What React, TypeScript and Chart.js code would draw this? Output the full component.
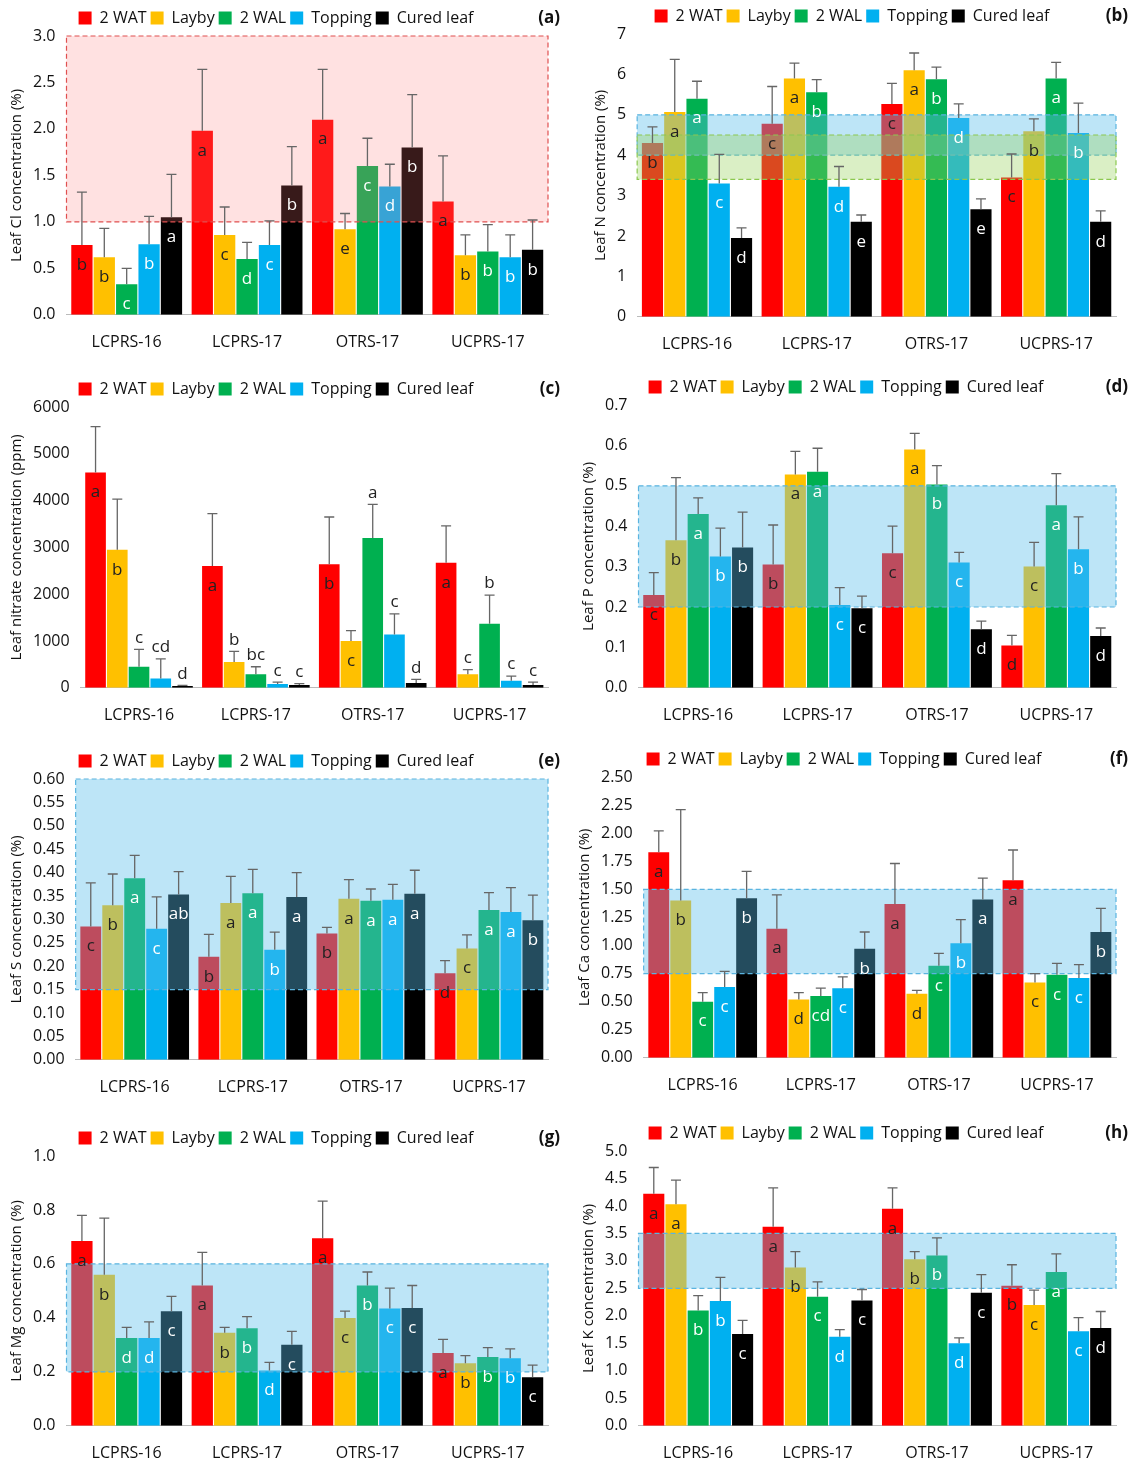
import { useEffect, useRef } from 'react';
import { Chart, registerables } from 'chart.js';

Chart.register(...registerables);

const FONT = '"Open Sans", "Noto Sans", sans-serif';
const sites = ['LCPRS-16', 'LCPRS-17', 'OTRS-17', 'UCPRS-17'];
const stages = ['2 WAT', 'Layby', '2 WAL', 'Topping', 'Cured leaf'];
const stageColors = ['#FF0000', '#FFC000', '#00B050', '#00B0F0', '#000000'];
const letterColors = ['#222', '#222', '#fff', '#fff', '#fff'];

// rows = stages, columns = sites
const clMeans = [[0.75, 1.98, 2.10, 1.22], [0.62, 0.86, 0.92, 0.64], [0.33, 0.60, 1.60, 0.68], [0.76, 0.75, 1.38, 0.62], [1.05, 1.39, 1.80, 0.70]];
const clTops = [[1.32, 2.64, 2.64, 1.71], [0.93, 1.16, 1.09, 0.86], [0.50, 0.78, 1.90, 0.97], [1.06, 1.01, 1.62, 0.86], [1.51, 1.81, 2.37, 1.02]];
const clLetters = [['b', 'a', 'a', 'a'], ['b', 'c', 'e', 'b'], ['c', 'd', 'c', 'b'], ['b', 'c', 'd', 'b'], ['a', 'b', 'b', 'b']];

const nMeans = [[4.30, 4.78, 5.27, 3.45], [5.07, 5.90, 6.10, 4.59], [5.40, 5.56, 5.88, 5.90], [3.30, 3.22, 4.92, 4.55], [1.95, 2.35, 2.66, 2.35]];
const nTops = [[4.70, 5.70, 5.78, 4.03], [6.37, 6.28, 6.53, 4.90], [5.83, 5.87, 6.18, 6.30], [4.02, 3.72, 5.27, 5.29], [2.20, 2.52, 2.92, 2.62]];
const nLetters = [['b', 'c', 'c', 'c'], ['a', 'a', 'a', 'b'], ['a', 'b', 'b', 'a'], ['c', 'd', 'd', 'b'], ['d', 'e', 'e', 'd']];

const no3Means = [[4600, 2600, 2640, 2670], [2950, 550, 1000, 290], [450, 290, 3200, 1370], [200, 80, 1140, 150], [40, 60, 100, 60]];
const no3Tops = [[5580, 3720, 3650, 3460], [4030, 780, 1220, 390], [820, 450, 3920, 1980], [620, 120, 1580, 250], [50, 90, 180, 120]];
const no3Letters = [['a', 'a', 'b', 'a'], ['b', '^b', 'c', '^c'], ['^c', '^bc', '^a', '^b'], ['^cd', '^c', '^c', '^c'], ['^d', '^c', '^d', '^c']];

const pMeans = [[0.230, 0.305, 0.333, 0.105], [0.365, 0.528, 0.590, 0.300], [0.430, 0.535, 0.503, 0.452], [0.325, 0.205, 0.310, 0.343], [0.347, 0.197, 0.145, 0.128]];
const pTops = [[0.285, 0.403, 0.400, 0.130], [0.520, 0.585, 0.630, 0.360], [0.470, 0.593, 0.550, 0.530], [0.395, 0.248, 0.335, 0.423], [0.435, 0.227, 0.165, 0.148]];
const pLetters = [['c', 'b', 'c', 'd'], ['b', 'a', 'a', 'c'], ['a', 'a', 'b', 'a'], ['b', 'c', 'c', 'b'], ['b', 'c', 'd', 'd']];

const sMeans = [[0.285, 0.220, 0.270, 0.185], [0.330, 0.335, 0.344, 0.238], [0.388, 0.356, 0.340, 0.320], [0.280, 0.235, 0.342, 0.316], [0.353, 0.348, 0.355, 0.298]];
const sTops = [[0.378, 0.268, 0.283, 0.212], [0.397, 0.392, 0.385, 0.267], [0.437, 0.407, 0.365, 0.357], [0.348, 0.273, 0.375, 0.368], [0.402, 0.400, 0.405, 0.352]];
const sLetters = [['c', 'b', 'b', 'd'], ['b', 'a', 'a', 'c'], ['a', 'a', 'a', 'a'], ['c', 'b', 'a', 'a'], ['ab', 'a', 'a', 'b']];

const caMeans = [[1.83, 1.15, 1.37, 1.58], [1.40, 0.52, 0.57, 0.67], [0.50, 0.55, 0.82, 0.74], [0.63, 0.62, 1.02, 0.71], [1.42, 0.97, 1.41, 1.12]];
const caTops = [[2.02, 1.45, 1.73, 1.85], [2.21, 0.58, 0.60, 0.75], [0.58, 0.62, 0.93, 0.84], [0.77, 0.72, 1.23, 0.83], [1.66, 1.12, 1.60, 1.33]];
const caLetters = [['a', 'a', 'a', 'a'], ['b', 'd', 'd', 'c'], ['c', 'cd', 'c', 'c'], ['c', 'c', 'b', 'c'], ['b', 'b', 'a', 'b']];

const mgMeans = [[0.685, 0.520, 0.695, 0.270], [0.560, 0.345, 0.400, 0.232], [0.325, 0.362, 0.520, 0.255], [0.325, 0.205, 0.435, 0.250], [0.425, 0.300, 0.437, 0.180]];
const mgTops = [[0.780, 0.643, 0.833, 0.320], [0.770, 0.365, 0.425, 0.260], [0.365, 0.405, 0.570, 0.290], [0.385, 0.235, 0.510, 0.285], [0.480, 0.350, 0.520, 0.225]];
const mgLetters = [['a', 'a', 'a', 'a'], ['b', 'b', 'c', 'b'], ['d', 'b', 'b', 'b'], ['d', 'd', 'c', 'b'], ['c', 'c', 'c', 'c']];

const kMeans = [[4.22, 3.62, 3.95, 2.55], [4.03, 2.88, 3.03, 2.20], [2.10, 2.35, 3.10, 2.80], [2.27, 1.62, 1.50, 1.72], [1.67, 2.28, 2.42, 1.78]];
const kTops = [[4.70, 4.33, 4.33, 2.93], [4.47, 3.17, 3.17, 2.47], [2.37, 2.62, 3.42, 3.13], [2.70, 1.75, 1.60, 1.97], [1.92, 2.48, 2.75, 2.08]];
const kLetters = [['a', 'a', 'a', 'b'], ['a', 'b', 'b', 'c'], ['b', 'c', 'b', 'a'], ['b', 'd', 'd', 'c'], ['c', 'c', 'c', 'd']];

type Band = { lo: number; hi: number; fill: string; edge: string };
const PINK = { fill: 'rgba(255,120,120,0.22)', edge: '#E05050' };
const BLUE = { fill: 'rgba(90,190,235,0.40)', edge: '#5AB4E0' };
const GREEN = { fill: 'rgba(150,210,90,0.35)', edge: '#8CC850' };

type PanelProps = {
  tag: string; title: string; means: number[][]; tops: number[][]; letters: string[][];
  max: number; step: number; dec: number; bands: Band[];
  left: number; top: number; width: number; height: number; padLeft: number;
};

function Panel(p: PanelProps) {
  const ref = useRef<HTMLCanvasElement>(null);
  useEffect(() => {
    if (!ref.current) return;
    const overlay = {
      id: 'overlay',
      afterDatasetsDraw(chart: any) {
        const ctx = chart.ctx;
        const ys = chart.scales.y;
        const area = chart.chartArea;
        ctx.save();
        p.bands.forEach((b) => {
          const y1 = ys.getPixelForValue(b.hi);
          const y2 = ys.getPixelForValue(b.lo);
          ctx.fillStyle = b.fill;
          ctx.fillRect(area.left, y1, area.right - area.left, y2 - y1);
          ctx.setLineDash([5, 3]);
          ctx.strokeStyle = b.edge;
          ctx.lineWidth = 1.2;
          ctx.strokeRect(area.left, y1, area.right - area.left, y2 - y1);
          ctx.setLineDash([]);
        });
        p.means.forEach((_, si) => {
          const meta = chart.getDatasetMeta(si);
          meta.data.forEach((bar: any, ci: number) => {
            const topY = ys.getPixelForValue(p.tops[si][ci]);
            ctx.strokeStyle = '#666';
            ctx.lineWidth = 1.3;
            ctx.beginPath();
            ctx.moveTo(bar.x, bar.y);
            ctx.lineTo(bar.x, topY);
            ctx.moveTo(bar.x - 5, topY);
            ctx.lineTo(bar.x + 5, topY);
            ctx.stroke();
            const lt = p.letters[si][ci];
            ctx.font = `17px ${FONT}`;
            ctx.textAlign = 'center';
            if (lt.startsWith('^')) {
              ctx.fillStyle = '#222';
              ctx.textBaseline = 'bottom';
              ctx.fillText(lt.slice(1), bar.x, topY - 3);
            } else {
              ctx.fillStyle = letterColors[si];
              ctx.textBaseline = 'middle';
              ctx.fillText(lt, bar.x, bar.y + 20);
            }
          });
        });
        ctx.fillStyle = '#111';
        ctx.font = `bold 17px ${FONT}`;
        ctx.textAlign = 'right';
        ctx.textBaseline = 'middle';
        ctx.fillText(p.tag, chart.width - 8, chart.legend.top + 12);
        ctx.restore();
      },
    };
    const chart = new Chart(ref.current, {
      type: 'bar',
      data: {
        labels: sites,
        datasets: stages.map((s, i) => ({
          label: s, data: p.means[i], backgroundColor: stageColors[i],
          categoryPercentage: 0.93, barPercentage: 0.95,
        })),
      },
      options: {
        animation: false,
        responsive: false,
        layout: { padding: { left: p.padLeft, right: 20, top: 2, bottom: 0 } },
        plugins: {
          legend: {
            position: 'top',
            align: 'center',
            labels: { boxWidth: 13, boxHeight: 13, padding: 4, color: '#111', font: { family: FONT, size: 16 } },
          },
          tooltip: { enabled: false },
        },
        scales: {
          x: {
            grid: { display: false },
            border: { color: '#bbb' },
            ticks: { color: '#111', font: { family: FONT, size: 16 }, padding: 10 },
          },
          y: {
            min: 0, max: p.max,
            grid: { display: false },
            border: { display: false },
            ticks: { stepSize: p.step, color: '#111', font: { family: FONT, size: 16 }, callback: (v: any) => Number(v).toFixed(p.dec) },
            title: { display: true, text: p.title, color: '#111', font: { family: FONT, size: 15 } },
          },
        },
      },
      plugins: [overlay],
    } as any);
    return () => chart.destroy();
  }, []);
  return (
    <div style={{ position: 'absolute', left: p.left, top: p.top, width: p.width, height: p.height }}>
      <canvas ref={ref} width={p.width} height={p.height} style={{ width: p.width, height: p.height }} />
    </div>
  );
}

export default function App() {
  useEffect(() => {
    document.body.style.margin = '0';
    document.body.style.overflow = 'hidden';
  }, []);
  const W = 568;
  return (
    <div style={{ position: 'relative', width: 1136, height: 1473, background: '#fff', overflow: 'hidden' }}>
      <Panel tag="(a)" title="Leaf Cl concentration (%)" means={clMeans} tops={clTops} letters={clLetters} max={3} step={0.5} dec={1}
        bands={[{ lo: 1, hi: 3, ...PINK }]} left={0} top={4} width={W} height={358} padLeft={4} />
      <Panel tag="(b)" title="Leaf N concentration (%)" means={nMeans} tops={nTops} letters={nLetters} max={7} step={1} dec={0}
        bands={[{ lo: 4, hi: 5, ...BLUE }, { lo: 3.4, hi: 4.5, ...GREEN }]} left={568} top={2} width={W} height={362} padLeft={20} />
      <Panel tag="(c)" title="Leaf nitrate concentration (ppm)" means={no3Means} tops={no3Tops} letters={no3Letters} max={6000} step={1000} dec={0}
        bands={[]} left={0} top={375} width={W} height={360} padLeft={4} />
      <Panel tag="(d)" title="Leaf P concentration (%)" means={pMeans} tops={pTops} letters={pLetters} max={0.7} step={0.1} dec={1}
        bands={[{ lo: 0.2, hi: 0.5, ...BLUE }]} left={568} top={373} width={W} height={362} padLeft={8} />
      <Panel tag="(e)" title="Leaf S concentration (%)" means={sMeans} tops={sTops} letters={sLetters} max={0.6} step={0.05} dec={2}
        bands={[{ lo: 0.15, hi: 0.6, ...BLUE }]} left={0} top={747} width={W} height={360} padLeft={4} />
      <Panel tag="(f)" title="Leaf Ca concentration (%)" means={caMeans} tops={caTops} letters={caLetters} max={2.5} step={0.25} dec={2}
        bands={[{ lo: 0.75, hi: 1.5, ...BLUE }]} left={568} top={745} width={W} height={360} padLeft={4} />
      <Panel tag="(g)" title="Leaf Mg concentration (%)" means={mgMeans} tops={mgTops} letters={mgLetters} max={1} step={0.2} dec={1}
        bands={[{ lo: 0.2, hi: 0.6, ...BLUE }]} left={0} top={1124} width={W} height={349} padLeft={4} />
      <Panel tag="(h)" title="Leaf K concentration (%)" means={kMeans} tops={kTops} letters={kLetters} max={5} step={0.5} dec={1}
        bands={[{ lo: 2.5, hi: 3.5, ...BLUE }]} left={568} top={1119} width={W} height={354} padLeft={8} />
    </div>
  );
}
